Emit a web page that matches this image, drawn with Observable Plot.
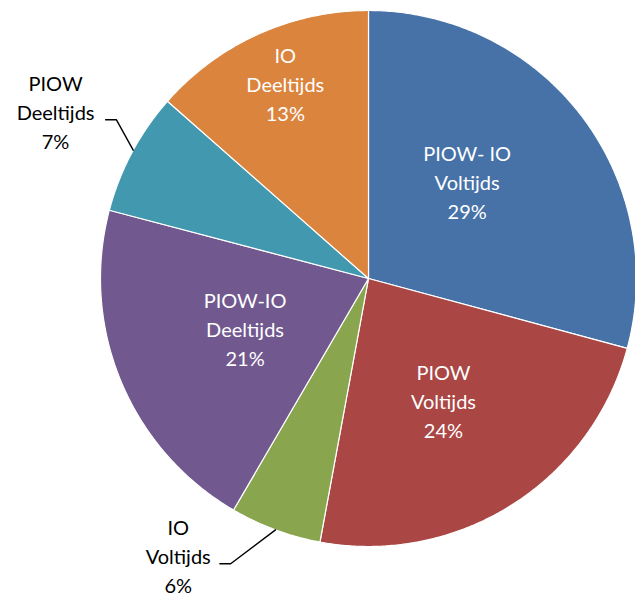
<!DOCTYPE html>
<html>
<head>
<meta charset="utf-8">
<script src="https://cdn.jsdelivr.net/npm/d3@7"></script>
<script src="https://cdn.jsdelivr.net/npm/@observablehq/plot@0.6"></script>
<style>
  html, body { margin: 0; padding: 0; background: #fff; }
  #chart svg { display: block; }
</style>
</head>
<body>
<div id="chart"></div>
<script>
// ---- data ----
const categories = ["PIOW- IO\nVoltijds", "PIOW\nVoltijds", "IO\nVoltijds", "PIOW-IO\nDeeltijds", "PIOW\nDeeltijds", "IO\nDeeltijds"];
const shares = [29.2, 23.7, 5.5, 20.7, 7.4, 13.5];
const percentLabels = ["29%", "24%", "6%", "21%", "7%", "13%"];
const colors = ["#4672A8", "#AA4644", "#89A54E", "#71588F", "#4298AF", "#DB843D"];

// ---- label layout (polar: degrees clockwise from 12 o'clock, radius as fraction of pie radius) ----
const labelAngle = [46.2, 148.8, 214.3, 247.1, 297.8, 336.7];
const labelRadius = [0.51, 0.54, 1.26, 0.50, 1.32, 0.785];
const labelInside = [true, true, false, true, false, true];
const leaderLines = [
  { slice: 4, pts: [[298.6, 1.0], [302.2, 1.112]] },
  { slice: 2, pts: [[200.3, 1.0], [205.8, 1.182]] }
];

// ---- geometry helpers (data units: pie radius = 1) ----
const W = 635, H = 596, R = 268, CX = 368, CY = 278;
const polar = (deg, r) => {
  const a = deg * Math.PI / 180;
  return [r * Math.sin(a), r * Math.cos(a)];
};

const pie = d3.pie().sort(null).value(d => d.share).startAngle(0).endAngle(2 * Math.PI);
const rows = categories.map((name, i) => ({ name, share: shares[i], color: colors[i] }));
const arcs = pie(rows);

const slicePts = [];
arcs.forEach(a => {
  const start = a.startAngle * 180 / Math.PI, end = a.endAngle * 180 / Math.PI;
  const n = Math.max(2, Math.ceil((end - start) / 0.5));
  slicePts.push({ name: a.data.name, x: 0, y: 0 });
  for (let k = 0; k <= n; k++) {
    const [x, y] = polar(start + (end - start) * k / n, 1);
    slicePts.push({ name: a.data.name, x, y });
  }
});

const labels = rows.map((d, i) => {
  const [x, y] = polar(labelAngle[i], labelRadius[i]);
  return { x, y, text: d.name + "\n" + percentLabels[i], inside: labelInside[i] };
});

const leaderPts = [];
leaderLines.forEach((L, j) => {
  const p0 = polar(...L.pts[0]);
  const p1 = polar(...L.pts[1]);
  const lab = labels[L.slice];
  const tailX = p1[0] + (lab.x < p1[0] ? -1 : 1) * 0.04;
  [[p0[0], p0[1]], [p1[0], p1[1]], [tailX, p1[1]]].forEach(([x, y]) => leaderPts.push({ id: j, x, y }));
});

const textOpts = { x: "x", y: "y", text: "text", fontSize: 20, lineHeight: 1.45, lineAnchor: "middle", textAnchor: "middle", dy: -3 };

const chart = Plot.plot({
  width: W,
  height: H,
  margin: 0,
  x: { domain: [-CX / R, (W - CX) / R], axis: null },
  y: { domain: [-(H - CY) / R, CY / R], axis: null },
  color: { domain: categories, range: colors },
  style: { fontFamily: "Lato, 'Open Sans', sans-serif", background: "white" },
  marks: [
    Plot.line(slicePts, { x: "x", y: "y", z: "name", fill: "name", stroke: "white", strokeWidth: 1.2, curve: "linear-closed" }),
    Plot.line(leaderPts, { x: "x", y: "y", z: "id", stroke: "black", strokeWidth: 1.4 }),
    Plot.text(labels.filter(d => d.inside), { ...textOpts, fill: "white" }),
    Plot.text(labels.filter(d => !d.inside), { ...textOpts, fill: "black" })
  ]
});
document.getElementById("chart").appendChild(chart);
</script>
</body>
</html>
